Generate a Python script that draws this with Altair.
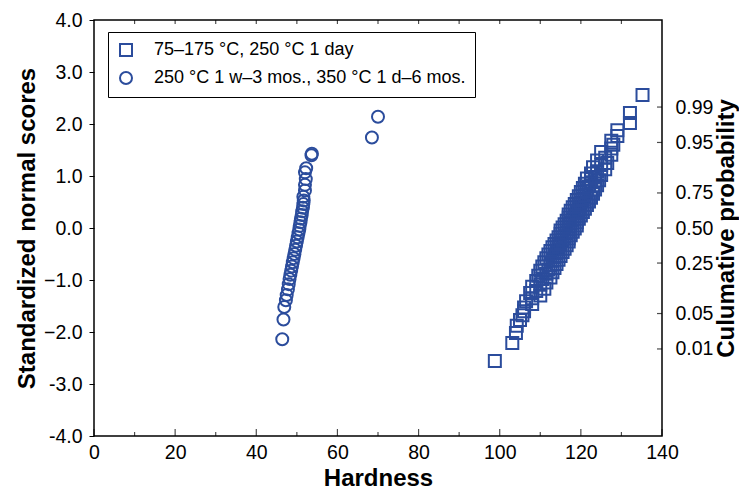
import altair as alt
import pandas as pd

BLUE = "#2b4c9c"
FONT = "Liberation Sans"

label_sq = "75\u2013175 \u00b0C, 250 \u00b0C 1 day"
label_ci = "250 \u00b0C 1 w\u20133 mos., 350 \u00b0C 1 d\u20136 mos."

# squares: hardness and standardized normal scores
sq_hardness = [
    98.8, 103.1, 104.0, 104.2, 105.0, 105.6, 106.0, 106.0, 108.0, 106.5,
    108.0, 110.0, 107.5, 109.0, 111.0, 108.0, 110.0, 111.5, 109.0, 110.5,
    112.5, 109.5, 111.5, 113.0, 110.0, 112.0, 113.5, 110.5, 112.5, 114.0,
    111.0, 113.0, 114.5, 111.5, 113.5, 115.0, 112.0, 114.0, 115.5, 112.5,
    114.5, 116.0, 113.0, 114.5, 116.5, 113.5, 115.0, 117.0, 114.0, 115.5,
    117.0, 114.5, 116.0, 117.5, 115.0, 116.5, 118.0, 115.0, 117.0, 118.5,
    115.5, 117.0, 119.0, 116.0, 117.5, 119.0, 116.5, 118.0, 119.5, 117.0,
    118.5, 120.0, 117.0, 119.0, 120.5, 117.5, 119.5, 121.0, 118.0, 119.5,
    121.5, 118.5, 120.0, 122.0, 119.0, 120.5, 122.5, 119.5, 121.0, 123.0,
    120.0, 121.5, 123.5, 120.5, 122.0, 124.0, 121.0, 122.5, 124.5, 121.5,
    123.5, 125.0, 122.5, 124.0, 126.0, 123.0, 125.0, 126.5, 124.0, 126.0,
    127.5, 125.0, 127.5, 128.0, 127.5, 129.0, 129.0, 132.1, 132.1, 135.2,
]
sq_score = [
    -2.56, -2.21, -2.02, -1.88, -1.77, -1.68, -1.60, -1.53, -1.46, -1.41,
    -1.35, -1.30, -1.25, -1.21, -1.17, -1.13, -1.09, -1.05, -1.02, -0.98,
    -0.95, -0.92, -0.88, -0.85, -0.82, -0.80, -0.77, -0.74, -0.71, -0.69,
    -0.66, -0.63, -0.61, -0.58, -0.56, -0.54, -0.51, -0.49, -0.46, -0.44,
    -0.42, -0.40, -0.37, -0.35, -0.33, -0.31, -0.29, -0.26, -0.24, -0.22,
    -0.20, -0.18, -0.16, -0.14, -0.11, -0.09, -0.07, -0.05, -0.03, -0.01,
    0.01, 0.03, 0.05, 0.07, 0.09, 0.11, 0.14, 0.16, 0.18, 0.20,
    0.22, 0.24, 0.26, 0.29, 0.31, 0.33, 0.35, 0.37, 0.40, 0.42,
    0.44, 0.46, 0.49, 0.51, 0.54, 0.56, 0.58, 0.61, 0.63, 0.66,
    0.69, 0.71, 0.74, 0.77, 0.80, 0.82, 0.85, 0.88, 0.92, 0.95,
    0.98, 1.02, 1.05, 1.09, 1.13, 1.17, 1.21, 1.25, 1.30, 1.35,
    1.41, 1.46, 1.53, 1.60, 1.68, 1.77, 1.88, 2.02, 2.21, 2.56,
]

# circles
ci_hardness = [
    46.4, 46.7, 46.9, 47.3, 47.5, 47.8, 48.0, 48.2, 48.4, 48.6,
    48.8, 49.0, 49.2, 49.4, 49.6, 49.8, 50.0, 50.2, 50.4, 50.6,
    50.7, 50.9, 51.0, 51.2, 51.3, 51.5, 51.6, 51.7, 51.6, 52.0,
    52.0, 52.2, 52.0, 52.3, 53.6, 53.7, 68.5, 70.0,
]
ci_score = [
    -2.14, -1.76, -1.52, -1.39, -1.29, -1.18, -1.08, -0.98, -0.90, -0.82,
    -0.74, -0.66, -0.58, -0.50, -0.42, -0.34, -0.26, -0.18, -0.10, -0.03,
    0.04, 0.11, 0.18, 0.25, 0.32, 0.39, 0.46, 0.53, 0.60, 0.72,
    0.83, 0.94, 1.07, 1.15, 1.40, 1.43, 1.74, 2.14,
]

left_ticks = [-4, -3, -2, -1, 0, 1, 2, 3, 4]
x_labels = [0, 20, 40, 60, 80, 100, 120, 140]
x_minor = [10, 30, 50, 70, 90, 110, 130]
top_ticks = [10, 20, 30, 40, 50, 60, 70, 80, 90, 100, 110, 120, 130]
prob_labels = ["0.01", "0.05", "0.25", "0.50", "0.75", "0.95", "0.99"]
prob_scores = [-2.326, -1.645, -0.674, 0.0, 0.674, 1.645, 2.326]

rows = [{"h": h, "z": z, "g": label_sq} for h, z in zip(sq_hardness, sq_score)]
rows += [{"h": h, "z": z, "g": label_ci} for h, z in zip(ci_hardness, ci_score)]
df = pd.DataFrame(rows)

xs = alt.Scale(domain=[0, 140], nice=False, zero=False)
ys = alt.Scale(domain=[-4, 4], nice=False, zero=False)

left_expr = "datum.value <= -3 ? '-' + format(-datum.value, '.1f') : format(datum.value, '.1f')"
right_expr = ""
for z, l in zip(prob_scores, prob_labels):
    right_expr += f"abs(datum.value - ({z})) < 0.01 ? '{l}' : "
right_expr += "''"

points = alt.Chart(df).mark_point(filled=False, strokeWidth=2, size=144, opacity=1).encode(
    x=alt.X("h:Q", scale=xs, axis=alt.Axis(
        values=x_labels, ticks=False, domain=False, grid=False, labelPadding=7, labelFlush=False,
        title="Hardness", titleX=284, titleY=42, titleBaseline="middle", titleAlign="center")),
    y=alt.Y("z:Q", scale=ys, axis=alt.Axis(
        values=left_ticks, labelExpr=left_expr, ticks=True, tickSize=5, domain=False, grid=False,
        labelPadding=7, labelFlush=False, title="Standardized normal scores", titleAngle=270,
        titleX=-67, titleY=208, titleBaseline="middle", titleAlign="center")),
    shape=alt.Shape("g:N", scale=alt.Scale(domain=[label_sq, label_ci], range=["square", "circle"]),
                    legend=alt.Legend(title=None, orient="none", legendX=14, legendY=12,
                                      strokeColor="black", fillColor="white", padding=9,
                                      labelFontSize=18, labelFont=FONT, labelColor="black",
                                      symbolSize=144, symbolStrokeWidth=2, symbolStrokeColor=BLUE,
                                      symbolFillColor="transparent", labelOffset=19, rowPadding=8,
                                      labelLimit=0)),
    color=alt.value(BLUE),
)

bot_major = alt.Chart(pd.DataFrame({"t": x_labels})).mark_tick(
    orient="vertical", size=7, thickness=1.2, color="black", yOffset=-3.5).encode(
    x=alt.X("t:Q", scale=xs, axis=None),
    y=alt.YDatum(-4, scale=ys, axis=None))

bot_minor = alt.Chart(pd.DataFrame({"t": x_minor})).mark_tick(
    orient="vertical", size=4, thickness=1.2, color="black", yOffset=-2).encode(
    x=alt.X("t:Q", scale=xs, axis=None),
    y=alt.YDatum(-4, scale=ys, axis=None))

top = alt.Chart(pd.DataFrame({"t": top_ticks})).mark_tick(
    orient="vertical", size=4, thickness=1.2, color="black", yOffset=2).encode(
    x=alt.X("t:Q", scale=xs, axis=None),
    y=alt.YDatum(4, scale=ys, axis=None))

right = alt.Chart(pd.DataFrame({"z": prob_scores, "p": prob_labels})).mark_tick(
    orient="horizontal", size=5, thickness=1.2, color="black", xOffset=-2.5).encode(
    x=alt.XDatum(140, scale=xs, axis=None),
    y=alt.Y("z:Q", scale=ys, axis=alt.Axis(
        orient="right", values=prob_scores, labelExpr=right_expr, ticks=False, domain=False,
        grid=False, labelPadding=13, labelFlush=False, title="Culumative probability",
        titleAngle=270, titleX=64, titleY=208, titleBaseline="middle", titleAlign="center")))

chart = alt.layer(points, bot_major, bot_minor, top, right).resolve_axis(
    x="independent", y="independent").properties(
    width=568, height=416,
    autosize=alt.AutoSizeParams(type="none"),
    padding={"left": 86, "top": 12, "right": 77, "bottom": 58},
).configure_view(stroke="black", strokeWidth=1.5).configure_axis(
    labelFont=FONT, labelFontSize=19.5, labelColor="black", tickColor="black",
    titleFont=FONT, titleFontSize=24, titleFontWeight="bold", titleColor="black",
).configure_legend(labelFont=FONT)

chart.save("out.html", embed_options={"renderer": "svg", "actions": False})
